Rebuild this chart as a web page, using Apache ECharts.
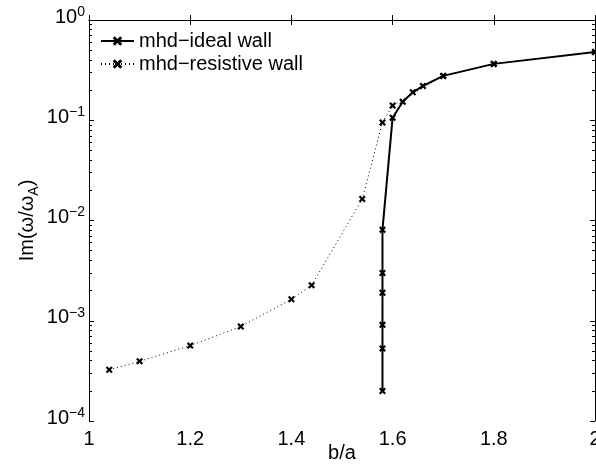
<!DOCTYPE html>
<html>
<head>
<meta charset="utf-8">
<script src="https://cdn.jsdelivr.net/npm/echarts@6/dist/echarts.min.js"></script>
<style>
html,body{margin:0;padding:0;background:#fff;}
#chart{width:596px;height:467px;}
</style>
</head>
<body>
<div id="chart"></div>
<script>
// ---- data ----
const idealName = 'mhd\u2212ideal wall';
const resistiveName = 'mhd\u2212resistive wall';
const idealX = [1.58, 1.58, 1.58, 1.58, 1.58, 1.58, 1.60, 1.62, 1.64, 1.66, 1.70, 1.80, 2.00];
const idealY = [1.99e-4, 5.3e-4, 9.1e-4, 1.9e-3, 3.0e-3, 8.1e-3, 0.106, 0.153, 0.19, 0.22, 0.277, 0.365, 0.48];
const resistiveX = [1.04, 1.10, 1.20, 1.30, 1.40, 1.44, 1.54, 1.58, 1.60, 1.70, 1.80, 2.00];
const resistiveY = [3.25e-4, 3.94e-4, 5.65e-4, 8.75e-4, 1.64e-3, 2.26e-3, 0.0164, 0.095, 0.14, 0.277, 0.365, 0.48];
const xTicks = [1, 1.2, 1.4, 1.6, 1.8, 2];
const yMajor = [1e-4, 1e-3, 1e-2, 1e-1, 1];
const minorMult = [2, 3, 4, 5, 6, 7, 8, 9];

// minor tick positions expressed as decade exponents (for a helper tick-only axis)
const yMinorExp = [];
for (let d = 0; d < yMajor.length - 1; d++) {
  for (const m of minorMult) yMinorExp.push(Math.log10(m * yMajor[d]));
}
const expMin = Math.log10(yMajor[0]);
const expMax = Math.log10(yMajor[yMajor.length - 1]);

const FONT = '"Liberation Sans", Arial, Helvetica, sans-serif';
const xSymbol = 'path://M0,2.2L2.2,0L5,2.8L7.8,0L10,2.2L7.2,5L10,7.8L7.8,10L5,7.2L2.2,10L0,7.8L2.8,5Z';

const pairs = (xs, ys) => xs.map((x, i) => [x, ys[i]]);

const chart = echarts.init(document.getElementById('chart'), null, {renderer: 'canvas'});

const baseLog = {
  type: 'log', logBase: 10, min: yMajor[0], max: yMajor[yMajor.length - 1],
  splitLine: {show: false}
};
const minorAxis = (pos) => ({
  type: 'value', min: expMin, max: expMax, position: pos,
  axisLine: {show: false},
  axisTick: {show: true, inside: true, length: 3, customValues: yMinorExp, lineStyle: {color: '#000', width: 1}},
  axisLabel: {show: false},
  splitLine: {show: false}
});

const option = {
  animation: false,
  backgroundColor: '#fff',
  grid: {left: 89, right: 1, top: 20, bottom: 46, containLabel: false, outerBoundsMode: 'none'},
  legend: {
    left: 100, top: 31, orient: 'vertical', padding: 0,
    itemWidth: 33, itemHeight: 12, itemGap: 3,
    textStyle: {fontFamily: FONT, fontSize: 20, color: '#000', lineHeight: 20},
    data: [idealName, resistiveName]
  },
  xAxis: [
    {
      type: 'value', min: 1, max: 2, interval: 0.2, position: 'bottom',
      name: 'b/a', nameLocation: 'middle', nameGap: 22, nameMoveOverlap: false,
      nameTextStyle: {fontFamily: FONT, fontSize: 20, color: '#000'},
      axisLine: {lineStyle: {color: '#000', width: 1}},
      axisTick: {inside: true, length: 5, lineStyle: {color: '#000'}},
      axisLabel: {fontFamily: FONT, fontSize: 20, color: '#000', margin: 8, showMaxLabel: true, showMinLabel: true},
      splitLine: {show: false}
    },
    {
      type: 'value', min: 1, max: 2, interval: 0.2, position: 'top',
      axisLine: {lineStyle: {color: '#000', width: 1}},
      axisTick: {inside: true, length: 5, lineStyle: {color: '#000'}},
      axisLabel: {show: false},
      splitLine: {show: false}
    }
  ],
  yAxis: [
    Object.assign({}, baseLog, {
      position: 'left',
      name: '{a|Im(\u03c9/\u03c9}{s|A}{a|)}', nameLocation: 'middle', nameGap: 52, nameRotate: 90,
      nameMoveOverlap: false,
      nameTextStyle: {
        fontFamily: FONT, color: '#000',
        rich: {
          a: {fontFamily: FONT, fontSize: 20, color: '#000', lineHeight: 20, verticalAlign: 'top'},
          s: {fontFamily: FONT, fontSize: 14, color: '#000', lineHeight: 14, padding: [10, 0, 0, 0], verticalAlign: 'top'}
        }
      },
      axisLine: {lineStyle: {color: '#000', width: 1}},
      axisTick: {inside: true, length: 5, lineStyle: {color: '#000'}},
      axisLabel: {
        margin: 4, padding: [0, 0, 6, 0],
        formatter: function (v) {
          const e = Math.round(Math.log10(v));
          return '{b|10}{s|' + (e < 0 ? '\u2212' + (-e) : e) + '}';
        },
        rich: {
          b: {fontFamily: FONT, fontSize: 20, color: '#000', lineHeight: 20, verticalAlign: 'bottom'},
          s: {fontFamily: FONT, fontSize: 14, color: '#000', lineHeight: 20, padding: [0, 0, 8, 0], verticalAlign: 'bottom'}
        }
      }
    }),
    minorAxis('left'),
    Object.assign({}, baseLog, {
      position: 'right',
      axisLine: {show: true, lineStyle: {color: '#000', width: 1}},
      axisTick: {inside: true, length: 5, lineStyle: {color: '#000'}},
      axisLabel: {show: false}
    }),
    minorAxis('right')
  ],
  series: [
    {
      name: idealName, type: 'line', xAxisIndex: 0, yAxisIndex: 0,
      data: pairs(idealX, idealY),
      symbol: xSymbol, symbolSize: 7, showAllSymbol: true,
      lineStyle: {color: '#000', width: 2, type: 'solid'},
      itemStyle: {color: '#000'},
      clip: false, z: 3
    },
    {
      name: resistiveName, type: 'line', xAxisIndex: 0, yAxisIndex: 0,
      data: pairs(resistiveX, resistiveY),
      symbol: xSymbol, symbolSize: 7, showAllSymbol: true,
      lineStyle: {color: '#000', width: 1, type: [1, 3]},
      itemStyle: {color: '#000'},
      clip: false, z: 2
    }
  ]
};
chart.setOption(option);
</script>
</body>
</html>
